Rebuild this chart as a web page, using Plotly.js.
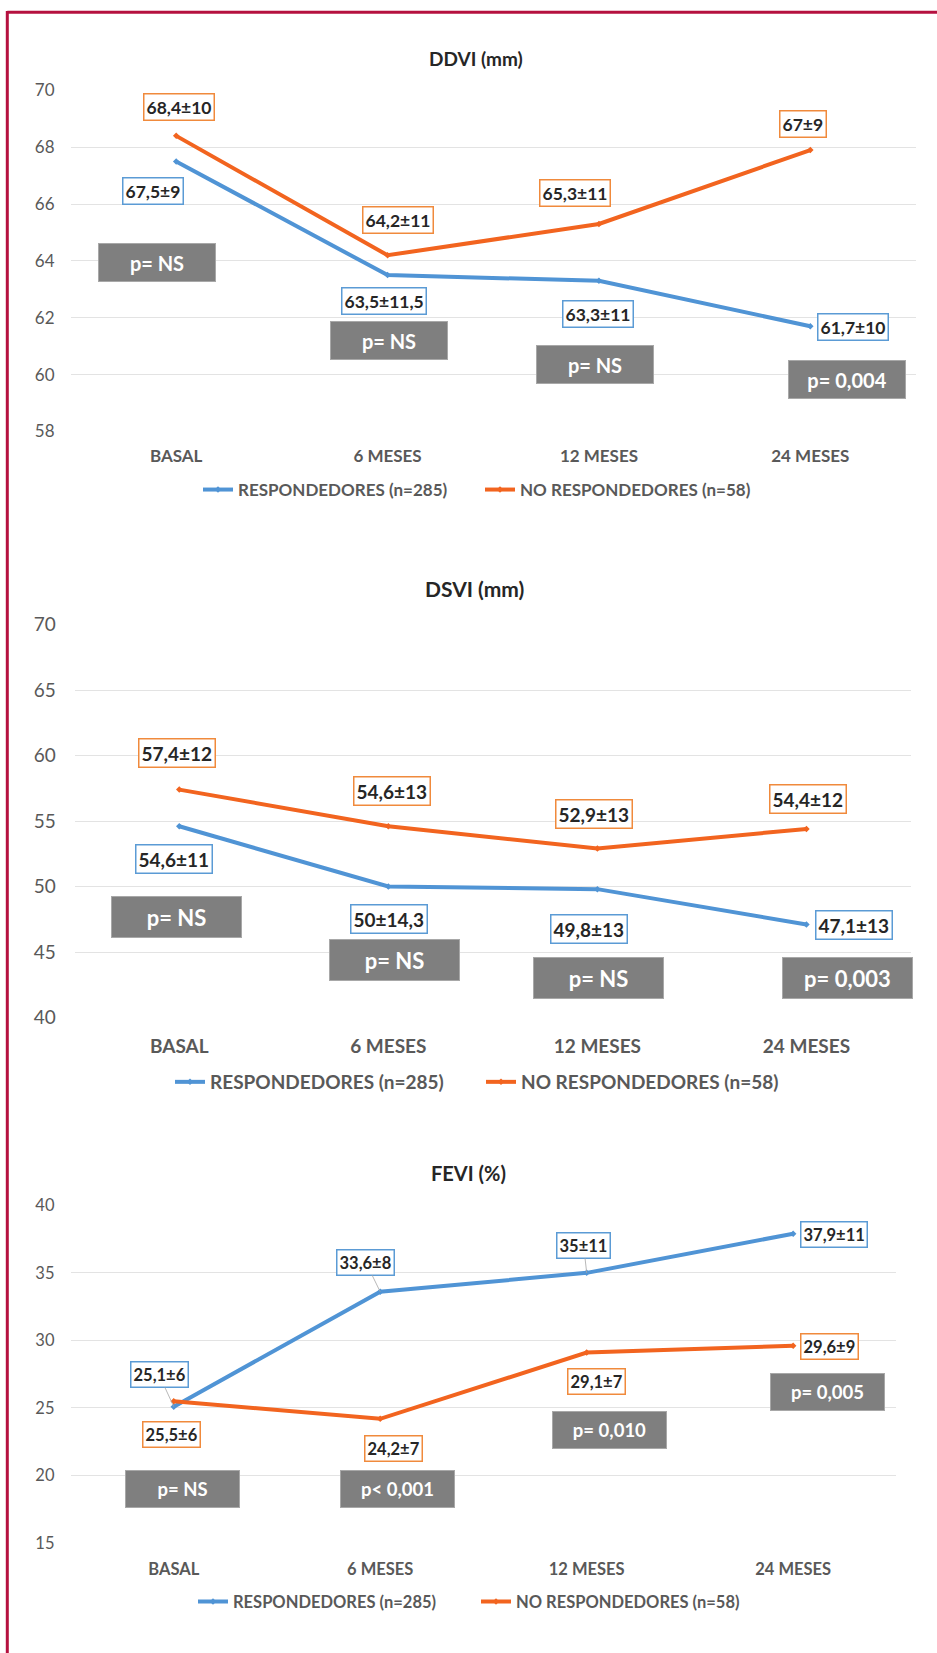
<!DOCTYPE html>
<html>
<head>
<meta charset="utf-8">
<script src="https://cdn.plot.ly/plotly-3.0.1.min.js"></script>
<style>
html,body{margin:0;padding:0;background:#fff;}
#chart{width:937px;height:1653px;}
</style>
</head>
<body>
<div id="chart"></div>
<script>
// ---------- DATA ----------
const categories = ['BASAL', '6 MESES', '12 MESES', '24 MESES'];
const seriesNames = ['RESPONDEDORES (n=285)', 'NO RESPONDEDORES (n=58)'];

const ddviResp = [67.5, 63.5, 63.3, 61.7];
const ddviNoResp = [68.4, 64.2, 65.3, 67.9];
const ddviRespLabels = ['67,5±9', '63,5±11,5', '63,3±11', '61,7±10'];
const ddviNoRespLabels = ['68,4±10', '64,2±11', '65,3±11', '67±9'];
const ddviP = ['p= NS', 'p= NS', 'p= NS', 'p= 0,004'];
const ddviTicks = [58, 60, 62, 64, 66, 68, 70];

const dsviResp = [54.6, 50, 49.8, 47.1];
const dsviNoResp = [57.4, 54.6, 52.9, 54.4];
const dsviRespLabels = ['54,6±11', '50±14,3', '49,8±13', '47,1±13'];
const dsviNoRespLabels = ['57,4±12', '54,6±13', '52,9±13', '54,4±12'];
const dsviP = ['p= NS', 'p= NS', 'p= NS', 'p= 0,003'];
const dsviTicks = [40, 45, 50, 55, 60, 65, 70];

const feviResp = [25.1, 33.6, 35, 37.9];
const feviNoResp = [25.5, 24.2, 29.1, 29.6];
const feviRespLabels = ['25,1±6', '33,6±8', '35±11', '37,9±11'];
const feviNoRespLabels = ['25,5±6', '24,2±7', '29,1±7', '29,6±9'];
const feviP = ['p= NS', 'p< 0,001', 'p= 0,010', 'p= 0,005'];
const feviTicks = [15, 20, 25, 30, 35, 40];

// ---------- STYLE / LAYOUT CONFIG ----------
const W = 937, H = 1653;
const FONT = 'Lato, "Open Sans", "DejaVu Sans", sans-serif';
const BLUE = '#5094D5', ORANGE = '#F2641F';
const BLUE_BORDER = '#5B9BD5', ORANGE_BORDER = '#F08A3C';
const GRAY_BOX = '#7F7F7F';
const TICK_COLOR = '#595959', LABEL_COLOR = '#262626';

const charts = [
  { title: 'DDVI (mm)', resp: ddviResp, noResp: ddviNoResp, respLab: ddviRespLabels, noRespLab: ddviNoRespLabels,
    p: ddviP, ticks: ddviTicks, range: [58, 70],
    px: [70.5, 916], py: [90.4, 431.4], titleX: 476, titleY: 58, fs: 17, labFs: 17.5, titleFs: 19, pFs: 20,
    legendX: 198, legendY: 490, legendEW: 237, xStand: 13, yStand: 15,
    respOff: [[-23.2, 29.9], [-4, 25.4], [-0.5, 33.5], [42.2, 0.3]],
    noOff: [[2.5, -29.3], [10, -35.7], [-23.5, -31], [-7.3, -26.4]],
    respLeader: [false, false, false, false],
    pY: [63.94, 61.2, 60.34, 59.84], pDx: [-19.2, 1.4, -3.5, 36.7], pSize: [116, 37] },
  { title: 'DSVI (mm)', resp: dsviResp, noResp: dsviNoResp, respLab: dsviRespLabels, noRespLab: dsviNoRespLabels,
    p: dsviP, ticks: dsviTicks, range: [40, 70],
    px: [74.7, 911], py: [624.6, 1017.5], titleX: 475, titleY: 588, fs: 19, labFs: 19, titleFs: 21, pFs: 22,
    legendX: 170, legendY: 1082, legendEW: 266, xStand: 15, yStand: 18,
    respOff: [[-5.2, 32.5], [0.7, 32.5], [-8.4, 39.8], [47.3, 0]],
    noOff: [[-2.7, -36.3], [4, -35.3], [-3.1, -34.1], [1.1, -29.9]],
    respLeader: [false, false, false, false],
    pY: [47.71, 44.42, 43.02, 43.02], pDx: [-3.2, 5.7, 1.1, 40.6], pSize: [129, 40] },
  { title: 'FEVI (%)', resp: feviResp, noResp: feviNoResp, respLab: feviRespLabels, noRespLab: feviNoRespLabels,
    p: feviP, ticks: feviTicks, range: [15, 40],
    px: [70.5, 896.4], py: [1205.3, 1543.1], titleX: 468, titleY: 1173, fs: 16.5, labFs: 16.5, titleFs: 20, pFs: 18.5,
    legendX: 193, legendY: 1601.7, legendEW: 238, xStand: 14, yStand: 15,
    respOff: [[-14.7, -32], [-14.4, -29.5], [-3.1, -27.5], [40.8, 0.9]],
    noOff: [[-2.7, 33.3], [13.3, 30.2], [10.1, 28.6], [36, 0.6]],
    respLeader: [true, true, true, false],
    pY: [19.02, 19.02, 23.39, 26.21], pDx: [8.7, 17.2, 22.9, 34.5], pSize: [113, 36] }
];

const traces = [];
const annotations = [];
const layout = {
  width: W, height: H,
  margin: { l: 0, r: 0, t: 0, b: 0, pad: 0 },
  paper_bgcolor: '#ffffff', plot_bgcolor: '#ffffff',
  font: { family: FONT, color: TICK_COLOR },
  showlegend: true,
  hovermode: false,
  shapes: [
    { type: 'line', xref: 'paper', yref: 'paper', x0: 7.3 / W, x1: 1, y0: 1 - 12.3 / H, y1: 1 - 12.3 / H,
      line: { color: '#B5113F', width: 3 } },
    { type: 'line', xref: 'paper', yref: 'paper', x0: 7.3 / W, x1: 7.3 / W, y0: 0, y1: 1 - 11 / H,
      line: { color: '#B5113F', width: 3 } }
  ]
};

charts.forEach((c, k) => {
  const s = k === 0 ? '' : String(k + 1);
  const xa = 'x' + s, ya = 'y' + s, lg = 'legend' + s;

  layout['xaxis' + s] = {
    domain: [c.px[0] / W, c.px[1] / W], anchor: ya,
    type: 'category', categoryorder: 'array', categoryarray: categories,
    range: [-0.5, 3.5], showgrid: false, zeroline: false, showline: false, ticks: '',
    ticklabelstandoff: c.xStand,
    tickfont: { family: FONT, size: c.fs, color: TICK_COLOR, weight: 'bold' }, fixedrange: true
  };
  layout['yaxis' + s] = {
    domain: [1 - c.py[1] / H, 1 - c.py[0] / H], anchor: xa,
    range: c.range, tickvals: c.ticks, ticktext: c.ticks.map(String),
    showgrid: true, gridcolor: '#E3E3E3', gridwidth: 1, zeroline: false, showline: false, ticks: '',
    ticklabelstandoff: c.yStand,
    tickfont: { family: FONT, size: c.fs, color: TICK_COLOR }, fixedrange: true
  };
  layout[lg] = {
    orientation: 'h', x: c.legendX / W, xanchor: 'left', y: 1 - c.legendY / H, yanchor: 'middle',
    font: { family: FONT, size: c.fs, color: TICK_COLOR, weight: 'bold' },
    entrywidth: c.legendEW, entrywidthmode: 'pixels',
    bgcolor: 'rgba(0,0,0,0)', borderwidth: 0, itemclick: false, itemdoubleclick: false
  };

  traces.push({
    x: categories, y: c.resp, type: 'scatter', mode: 'lines+markers', name: seriesNames[0],
    line: { color: BLUE, width: 4 }, marker: { color: BLUE, size: 5, symbol: 'diamond' },
    xaxis: xa, yaxis: ya, legend: lg, showlegend: true, cliponaxis: false
  });
  traces.push({
    x: categories, y: c.noResp, type: 'scatter', mode: 'lines+markers', name: seriesNames[1],
    line: { color: ORANGE, width: 4 }, marker: { color: ORANGE, size: 5, symbol: 'diamond' },
    xaxis: xa, yaxis: ya, legend: lg, showlegend: true, cliponaxis: false
  });

  // chart title
  annotations.push({
    xref: 'paper', yref: 'paper', x: c.titleX / W, y: 1 - c.titleY / H, xanchor: 'center', yanchor: 'middle',
    text: '<b>' + c.title + '</b>', showarrow: false,
    font: { family: FONT, size: c.titleFs, color: LABEL_COLOR }
  });

  categories.forEach((cat, i) => {
    // responders label
    const ro = c.respOff[i];
    const rAnn = {
      xref: xa, yref: ya, x: cat, y: c.resp[i], text: '<b>' + c.respLab[i] + '</b>',
      font: { family: FONT, size: c.labFs, color: LABEL_COLOR },
      bgcolor: '#ffffff', bordercolor: BLUE_BORDER, borderwidth: 1.5, borderpad: 2,
      xanchor: 'center', yanchor: 'middle'
    };
    if (c.respLeader[i]) {
      Object.assign(rAnn, { showarrow: true, arrowhead: 0, arrowwidth: 0.8, arrowcolor: '#A6A6A6',
        ax: ro[0], ay: ro[1], standoff: 0 });
    } else {
      Object.assign(rAnn, { showarrow: false, xshift: ro[0], yshift: -ro[1] });
    }
    annotations.push(rAnn);

    // non-responders label
    const no = c.noOff[i];
    annotations.push({
      xref: xa, yref: ya, x: cat, y: c.noResp[i], text: '<b>' + c.noRespLab[i] + '</b>',
      font: { family: FONT, size: c.labFs, color: LABEL_COLOR },
      bgcolor: '#ffffff', bordercolor: ORANGE_BORDER, borderwidth: 1.5, borderpad: 2,
      showarrow: false, xshift: no[0], yshift: -no[1], xanchor: 'center', yanchor: 'middle'
    });

    // p-value gray box
    annotations.push({
      xref: xa, yref: ya, x: cat, y: c.pY[i], text: '<b>' + c.p[i] + '</b>',
      font: { family: FONT, size: c.pFs, color: '#ffffff' },
      bgcolor: GRAY_BOX, bordercolor: '#A8A8A8', borderwidth: 1, borderpad: 0,
      width: c.pSize[0], height: c.pSize[1], align: 'center', valign: 'middle',
      showarrow: false, xshift: c.pDx[i], xanchor: 'center', yanchor: 'middle'
    });
  });
});

layout.annotations = annotations;

Plotly.newPlot('chart', traces, layout, { displayModeBar: false, staticPlot: true });
</script>
</body>
</html>
